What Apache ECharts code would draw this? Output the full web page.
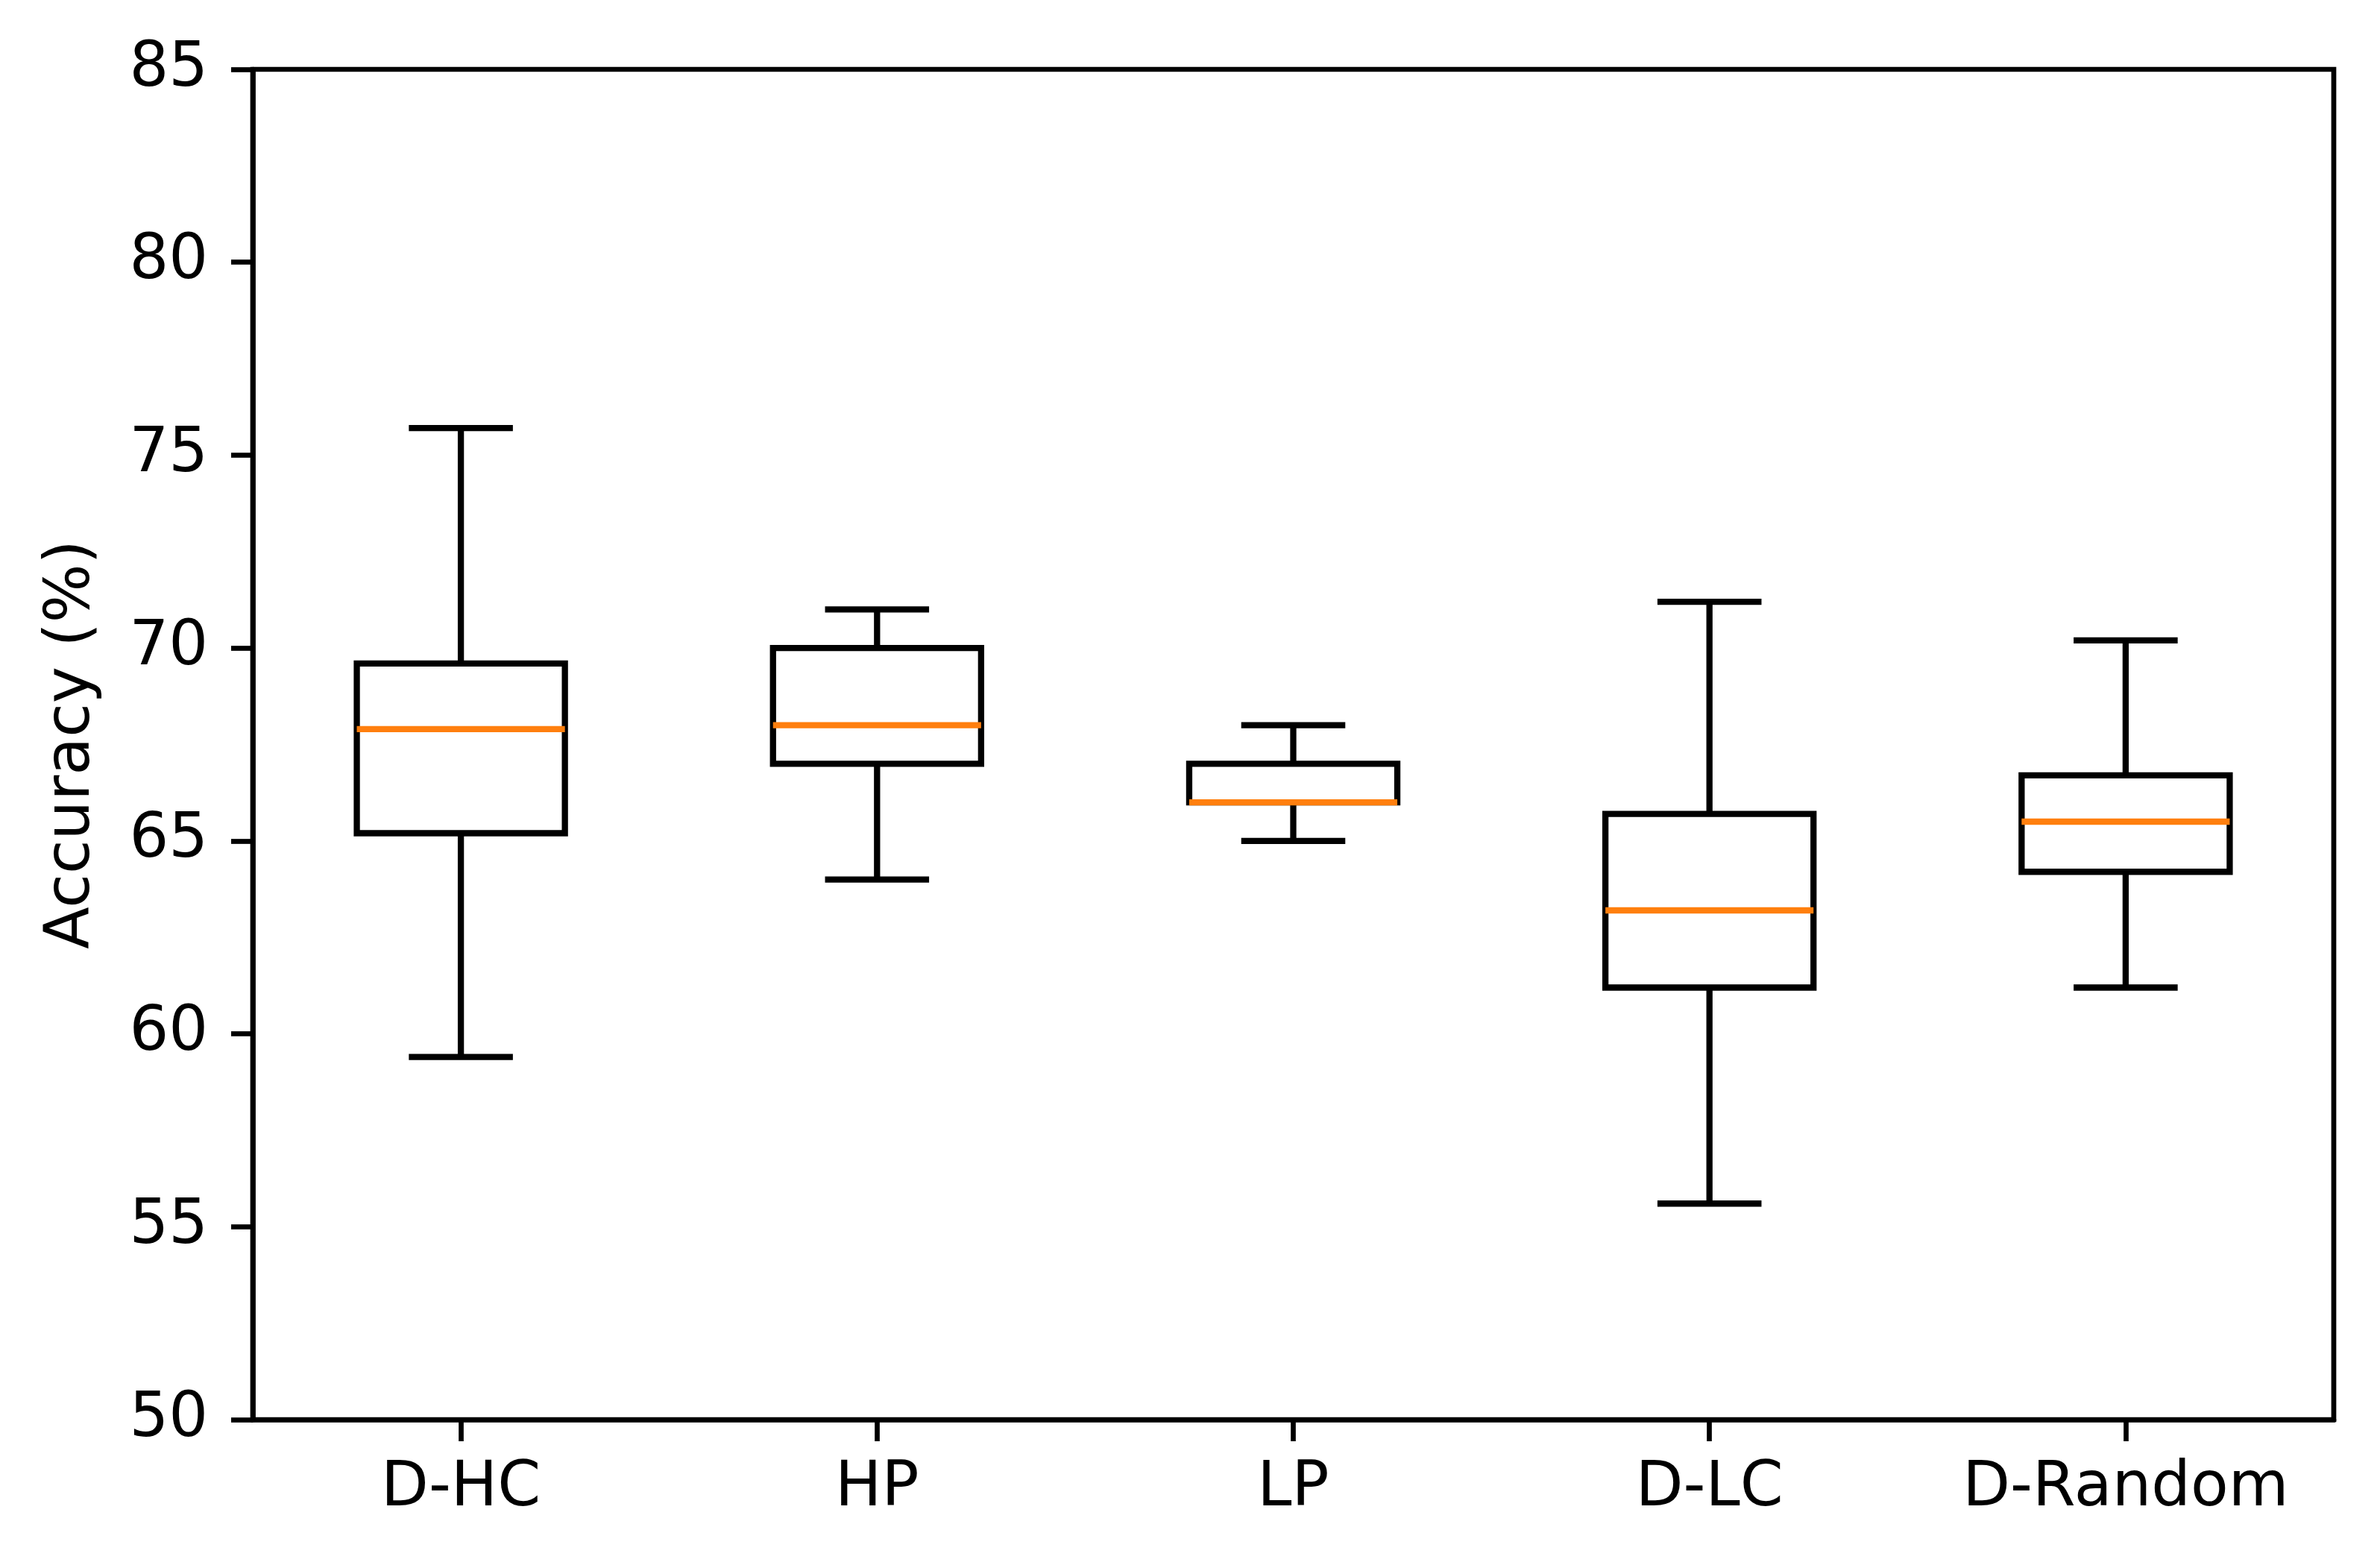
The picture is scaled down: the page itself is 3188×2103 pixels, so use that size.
<html>
<head>
    <meta charset="utf-8">
    <title>Accuracy boxplot</title>
    <script src="https://cdn.jsdelivr.net/npm/echarts@6/dist/echarts.min.js"></script>
</head>
<body style="margin:0;background:#fff;">
<div id="main" style="width: 3188px;height:2103px;"></div>
<script type="text/javascript">
    // categories and box stats (min, q1, median, q3, max)
    var categories = ['D-HC', 'HP', 'LP', 'D-LC', 'D-Random'];
    var lowWhisker = [59.4, 64.0, 65.0, 55.6, 61.2];
    var q1 = [65.2, 67.0, 66.0, 61.2, 64.2];
    var median = [67.9, 68.0, 66.0, 63.2, 65.5];
    var q3 = [69.6, 70.0, 67.0, 65.7, 66.7];
    var highWhisker = [75.7, 71.0, 68.0, 71.2, 70.2];
    var yTicks = [50, 55, 60, 65, 70, 75, 80, 85];

    var FONT = 'DejaVu Sans';
    var LW = 8.3;

    var rows = [];
    for (var i = 0; i < categories.length; i++) {
        rows.push([i, lowWhisker[i], q1[i], median[i], q3[i], highWhisker[i]]);
    }

    function renderBox(params, api) {
        var idx = api.value(0);
        var pLo = api.coord([idx, api.value(1)]);
        var pQ1 = api.coord([idx, api.value(2)]);
        var pMed = api.coord([idx, api.value(3)]);
        var pQ3 = api.coord([idx, api.value(4)]);
        var pHi = api.coord([idx, api.value(5)]);
        var band = api.size([1, 0])[0];
        var cx = pLo[0];
        var bh = band * 0.25;   // half box width
        var ch = band * 0.125;  // half cap width
        var black = {stroke: '#000', lineWidth: LW, fill: null};
        return {
            type: 'group',
            children: [
                {type: 'line', shape: {x1: cx, y1: pLo[1], x2: cx, y2: pQ1[1]}, style: black},
                {type: 'line', shape: {x1: cx, y1: pQ3[1], x2: cx, y2: pHi[1]}, style: black},
                {type: 'line', shape: {x1: cx - ch, y1: pLo[1], x2: cx + ch, y2: pLo[1]}, style: black},
                {type: 'line', shape: {x1: cx - ch, y1: pHi[1], x2: cx + ch, y2: pHi[1]}, style: black},
                {type: 'rect', shape: {x: cx - bh, y: pQ3[1], width: 2 * bh, height: pQ1[1] - pQ3[1]},
                    style: {stroke: '#000', lineWidth: LW, fill: '#fff', lineJoin: 'miter'}},
                {type: 'line', shape: {x1: cx - bh, y1: pMed[1], x2: cx + bh, y2: pMed[1]},
                    style: {stroke: '#ff7f0e', lineWidth: LW}}
            ]
        };
    }

    var myChart = echarts.init(document.getElementById('main'));
    myChart.setOption({
        animation: false,
        backgroundColor: '#fff',
        grid: {
            left: 339, right: 58, top: 93, bottom: 199,
            show: true, borderColor: '#000', borderWidth: 6.7, backgroundColor: 'transparent'
        },
        xAxis: {
            type: 'category',
            data: categories,
            boundaryGap: true,
            axisLine: {show: true, lineStyle: {color: '#000', width: 6.7}},
            axisTick: {show: true, alignWithLabel: true, interval: 0, length: 29, lineStyle: {color: '#000', width: 6.7}},
            axisLabel: {color: '#000', fontSize: 83, fontFamily: FONT, margin: 52, interval: 0},
            splitLine: {show: false}
        },
        yAxis: {
            type: 'value',
            min: yTicks[0],
            max: yTicks[yTicks.length - 1],
            interval: 5,
            name: 'Accuracy (%)',
            nameLocation: 'middle',
            nameGap: 200,
            nameTextStyle: {color: '#000', fontSize: 83, fontFamily: FONT},
            axisLine: {show: true, lineStyle: {color: '#000', width: 6.7}},
            axisTick: {show: true, length: 29, lineStyle: {color: '#000', width: 6.7}},
            axisLabel: {color: '#000', fontSize: 83, fontFamily: FONT, margin: 60},
            splitLine: {show: false}
        },
        series: [{
            type: 'custom',
            renderItem: renderBox,
            encode: {x: 0, y: [1, 2, 3, 4, 5]},
            data: rows
        }]
    });
</script>
</body>
</html>
